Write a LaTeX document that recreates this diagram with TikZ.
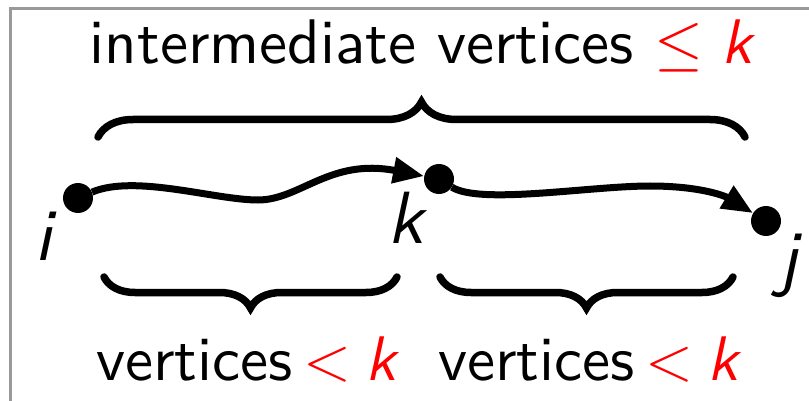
\RequirePackage{fix-cm}
\documentclass[tikz,border=0pt]{standalone}
\usepackage{fontspec}
\setsansfont{lmsans10-regular.otf}[ItalicFont=lmsans10-oblique.otf]
\usetikzlibrary{arrows.meta,decorations.pathreplacing}
\definecolor{framegray}{RGB}{153,153,153}
\tikzset{
  dot/.style={circle,fill=black,inner sep=0pt,minimum size=30pt},
  lbl/.style={font=\sffamily\fontsize{63}{70}\selectfont,inner sep=0pt,anchor=base},
  vlbl/.style={font=\sffamily\itshape\fontsize{74}{80}\selectfont,inner sep=0pt,anchor=base},
  arr/.style={line width=7pt,-{Triangle[length=31pt,width=25pt]}},
  bigbrace/.style={line width=7.5pt,line cap=round,decorate,decoration={brace,amplitude=#1}}
}
\newcommand{\ltk}{\textcolor{red}{$\mkern3mu{<}\mkern4mu\mbox{\itshape k}$}}
\begin{document}
\begin{tikzpicture}[x=1pt,y=-1pt]
\useasboundingbox (0,0) rectangle (809,401);
\draw[framegray,line width=3pt] (10.7,401) -- (10.7,8.8) -- (809,8.8);
% title
\node[lbl] (title) at (421,64) {intermediate vertices \textcolor{red}{$\leq\mbox{\itshape k}$}};
% braces
\coordinate (tb1) at (98,137);
\coordinate (tb2) at (745,137);
\draw[bigbrace=35] (tb1) -- (tb2);
\coordinate (lb1) at (397,277);
\coordinate (lb2) at (104,277);
\draw[bigbrace=31] (lb1) -- (lb2);
\coordinate (rb1) at (733,277);
\coordinate (rb2) at (440,277);
\draw[bigbrace=31] (rb1) -- (rb2);
% vertices
\node[dot] (i) at (78,198) {};
\node[dot] (k) at (439,179) {};
\node[dot] (j) at (766,221) {};
\node[vlbl] (il) at (43,260) {i};
\node[vlbl] (kl) at (406,243) {k};
\node[vlbl] (jl) at (788,282) {j};
% paths
\draw[arr] (i) .. controls (135,174) and (215,200) .. (258,200) .. controls (300,200) and (330,158) .. (k);
\draw[arr] (k) .. controls (480,205) and (590,186) .. (650,186) .. controls (700,186) and (725,196) .. (j);
% bottom labels
\node[lbl] (bl) at (246,380) {vertices\ltk};
\node[lbl] (br) at (588,380) {vertices\ltk};
\end{tikzpicture}
\end{document}
